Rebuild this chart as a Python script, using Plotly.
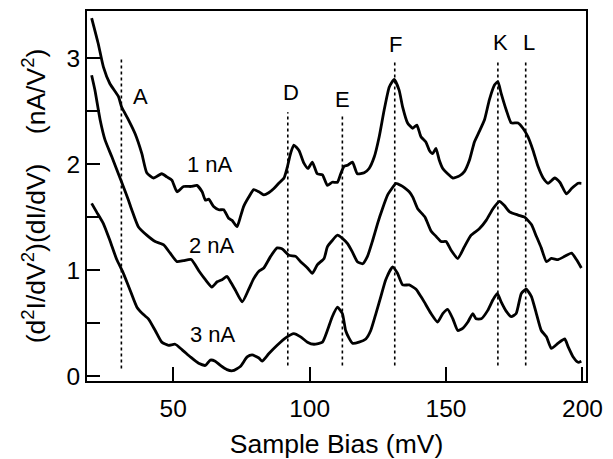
import plotly.graph_objects as go

# ---- data ----
bias_1nA = [20.1, 22.5, 24.4, 26.8, 29.9, 31.1, 33.6, 36.0, 38.5, 40.3, 42.8, 45.8, 47.7, 49.5, 51.4, 53.8, 56.5, 58.7,
            60.6, 61.8, 63.0, 64.8, 66.7, 68.5, 70.3, 71.6, 73.4, 74.6, 75.8, 77.7, 79.5, 81.4, 83.2, 85.0, 86.9, 88.7,
            90.6, 91.8, 93.0, 94.2, 96.1, 97.9, 99.4, 101.0, 102.8, 104.7, 106.5, 108.3, 110.2, 111.4, 112.6, 113.9,
            115.7, 117.5, 120.0, 121.8, 123.7, 125.5, 127.3, 129.2, 131.0, 132.8, 134.1, 135.9, 137.8, 139.3, 140.8,
            142.6, 143.9, 145.1, 146.3, 147.5, 148.8, 150.6, 152.5, 154.9, 156.7, 158.6, 160.4, 162.2, 164.1, 165.9,
            167.8, 169.0, 170.2, 172.1, 173.9, 176.4, 178.2, 180.0, 181.9, 183.7, 185.6, 187.4, 189.8, 191.7, 194.1,
            196.0, 198.4, 199.6]
signal_1nA = [3.38, 3.14, 2.92, 2.76, 2.64, 2.54, 2.42, 2.29, 2.10, 1.92, 1.87, 1.91, 1.88, 1.85, 1.74, 1.79, 1.79, 1.80,
              1.74, 1.66, 1.67, 1.60, 1.57, 1.57, 1.49, 1.47, 1.41, 1.50, 1.60, 1.69, 1.76, 1.74, 1.71, 1.73, 1.77, 1.82,
              1.87, 1.97, 2.10, 2.18, 2.13, 2.01, 1.96, 2.02, 1.91, 1.90, 1.80, 1.83, 1.83, 1.91, 1.98, 1.99,
              2.02, 1.91, 1.92, 1.96, 2.07, 2.26, 2.51, 2.73, 2.80, 2.70, 2.54, 2.39, 2.34, 2.37, 2.26,
              2.21, 2.13, 2.10, 2.15, 2.04, 1.96, 1.91, 1.87, 1.89, 1.93, 2.04, 2.21, 2.31, 2.42, 2.61,
              2.75, 2.78, 2.67, 2.51, 2.39, 2.39, 2.34, 2.26, 2.13, 1.98, 1.87, 1.82, 1.87, 1.83, 1.72,
              1.77, 1.82, 1.82]

bias_2nA = [20.1, 21.3, 23.2, 25.0, 27.5, 29.9, 31.7, 33.6, 34.8, 37.2, 40.3, 43.4, 46.4, 48.9, 51.4, 53.8, 56.6, 59.5,
            61.8, 64.2, 66.1, 67.9, 69.7, 71.0, 72.8, 75.3, 77.7, 79.5, 81.4, 83.2, 85.7, 88.1, 90.0, 92.4, 94.9, 96.7,
            99.2, 101.0, 102.8, 105.3, 106.5, 108.3, 110.2, 112.0, 113.9, 115.7, 117.5, 119.4, 121.2, 123.1, 124.9,
            126.7, 128.6, 130.4, 131.6, 133.5, 134.7, 136.5, 137.8, 139.6, 142.3, 144.5, 146.3, 148.2, 150.0, 151.8,
            154.3, 156.7, 159.2, 162.2, 164.7, 167.2, 169.6, 171.4, 173.3, 176.4, 178.8, 181.3, 183.1, 184.9, 186.8,
            188.6, 191.1, 193.5, 196.0, 197.8, 199.6]
signal_2nA = [2.84, 2.70, 2.42, 2.23, 2.07, 1.91, 1.79, 1.66, 1.57, 1.41, 1.33, 1.27, 1.24, 1.16, 1.08, 1.09, 1.10, 0.99,
              0.91, 0.84, 0.89, 0.91, 0.94, 0.89, 0.81, 0.70, 0.82, 0.92, 0.99, 1.02, 1.13, 1.21, 1.20, 1.14, 1.13, 1.08,
              1.02, 0.97, 1.05, 1.11, 1.22, 1.28, 1.33, 1.30, 1.25, 1.17, 1.08, 1.06, 1.13, 1.28, 1.44,
              1.58, 1.71, 1.78, 1.82, 1.80, 1.78, 1.74, 1.69, 1.58, 1.50, 1.37, 1.32, 1.27, 1.27, 1.19,
              1.11, 1.22, 1.33, 1.39, 1.47, 1.58, 1.65, 1.61, 1.55, 1.52, 1.50, 1.43, 1.32, 1.21, 1.08,
              1.11, 1.10, 1.13, 1.16, 1.10, 1.02]

bias_3nA = [20.1, 21.9, 24.4, 26.8, 29.3, 31.4, 34.2, 36.7, 39.1, 40.9, 43.4, 45.8, 48.3, 50.7, 53.2, 56.3, 59.3, 61.8,
            63.6, 65.4, 67.3, 69.7, 71.8, 74.6, 77.1, 78.9, 81.4, 82.6, 85.0, 88.1, 91.2, 94.2, 96.7, 99.2, 101.6, 104.7,
            106.5, 108.3, 110.2, 112.0, 113.2, 114.4, 115.7, 118.1, 120.6, 122.4, 124.3, 126.1, 127.9, 130.4, 132.2,
            134.1, 136.5, 139.0, 140.8, 142.0, 144.5, 146.9, 148.8, 150.6, 152.5, 154.3, 156.1, 158.0, 159.8, 161.0,
            162.9, 165.3, 167.2, 168.8, 170.2, 172.1, 173.9, 175.7, 177.6, 179.4, 181.3, 183.1, 184.9, 186.8, 188.6,
            191.1, 193.5, 194.7, 196.6, 198.4, 199.6]
signal_3nA = [1.63, 1.55, 1.44, 1.28, 1.10, 0.99, 0.81, 0.65, 0.58, 0.54, 0.43, 0.32, 0.29, 0.30, 0.25, 0.18, 0.12, 0.10,
              0.15, 0.14, 0.10, 0.06, 0.05, 0.09, 0.18, 0.20, 0.17, 0.14, 0.21, 0.29, 0.36, 0.40, 0.37, 0.32, 0.30, 0.32,
              0.43, 0.56, 0.65, 0.59, 0.43, 0.36, 0.31, 0.32, 0.35, 0.43, 0.59, 0.75, 0.91, 1.03, 0.97,
              0.86, 0.86, 0.82, 0.75, 0.70, 0.59, 0.51, 0.59, 0.63, 0.54, 0.43, 0.45, 0.51, 0.59, 0.54,
              0.54, 0.62, 0.72, 0.78, 0.70, 0.61, 0.56, 0.59, 0.78, 0.82, 0.75, 0.59, 0.43, 0.37, 0.26,
              0.31, 0.35, 0.28, 0.18, 0.13, 0.14]

curve_labels = ["1 nA", "2 nA", "3 nA"]
curve_label_x = [63.5, 64.2, 64.5]
curve_label_y = [2.00, 1.23, 0.39]

feature_names = ["A", "D", "E", "F", "K", "L"]
feature_bias = [31.0, 92.0, 112.0, 131.2, 169.0, 179.2]
feature_line_top = [3.00, 2.49, 2.48, 2.99, 2.99, 2.99]
feature_line_bottom = [0.07, 0.10, 0.10, 0.10, 0.10, 0.10]
feature_label_x = [38.0, 93.0, 112.1, 131.6, 170.0, 180.3]
feature_label_y = [2.64, 2.68, 2.61, 3.13, 3.15, 3.15]

x_ticks = [50, 100, 150, 200]
y_ticks = [0, 1, 2, 3]

FONT = "Liberation Sans, Arial, Helvetica, sans-serif"

fig = go.Figure()

# dotted feature lines
for xb, yt, yb in zip(feature_bias, feature_line_top, feature_line_bottom):
    fig.add_trace(go.Scatter(x=[xb, xb], y=[yb, yt], mode="lines",
                             line=dict(color="black", width=1.6, dash="dot"),
                             hoverinfo="skip", showlegend=False))

for xs, ys in [(bias_1nA, signal_1nA), (bias_2nA, signal_2nA), (bias_3nA, signal_3nA)]:
    fig.add_trace(go.Scatter(x=xs, y=ys, mode="lines",
                             line=dict(color="black", width=2.8, shape="spline", smoothing=0.5),
                             showlegend=False))

for name, xl, yl in zip(feature_names, feature_label_x, feature_label_y):
    fig.add_annotation(x=xl, y=yl, text=name, showarrow=False,
                       font=dict(family=FONT, size=22, color="black"))

for name, xl, yl in zip(curve_labels, curve_label_x, curve_label_y):
    fig.add_annotation(x=xl, y=yl, text=name, showarrow=False,
                       font=dict(family=FONT, size=22, color="black"))

fig.update_layout(
    width=613, height=459,
    margin=dict(l=87, r=27, t=11, b=78, autoexpand=False),
    paper_bgcolor="white", plot_bgcolor="white",
    font=dict(family=FONT, color="black"),
    showlegend=False,
)
fig.update_xaxes(
    range=[18.4, 201.3], tickvals=x_ticks, ticks="inside", ticklen=14, tickwidth=1.5, tickcolor="black",
    showline=True, linecolor="black", linewidth=2, mirror=True, showgrid=False, zeroline=False,
    tickfont=dict(family=FONT, size=24.5, color="black"), ticklabelstandoff=5,
    title=dict(text="Sample Bias (mV)", font=dict(family=FONT, size=26.5, color="black"), standoff=14),
    automargin=False,
)
fig.update_yaxes(
    range=[-0.047, 3.447], tickvals=y_ticks, ticks="inside", ticklen=13, tickwidth=1.5,
    tickcolor="black", showline=True, linecolor="black", linewidth=2, mirror=True, showgrid=False, zeroline=False,
    minor=dict(dtick=0.5, tick0=0, ticks="inside", ticklen=13, tickwidth=1.5, tickcolor="black", showgrid=False),
    tickfont=dict(family=FONT, size=24.5, color="black"),
    title=dict(text="(d<sup>2</sup>I/dV<sup>2</sup>)(dI/dV)\u00a0\u00a0\u00a0\u00a0(nA/V<sup>2</sup>)",
               font=dict(family=FONT, size=26.5, color="black"), standoff=13),
    automargin=False,
)

fig.write_html("out.html", config={"displayModeBar": False},
               post_script="document.body.style.margin='0';document.body.style.overflow='hidden';")
